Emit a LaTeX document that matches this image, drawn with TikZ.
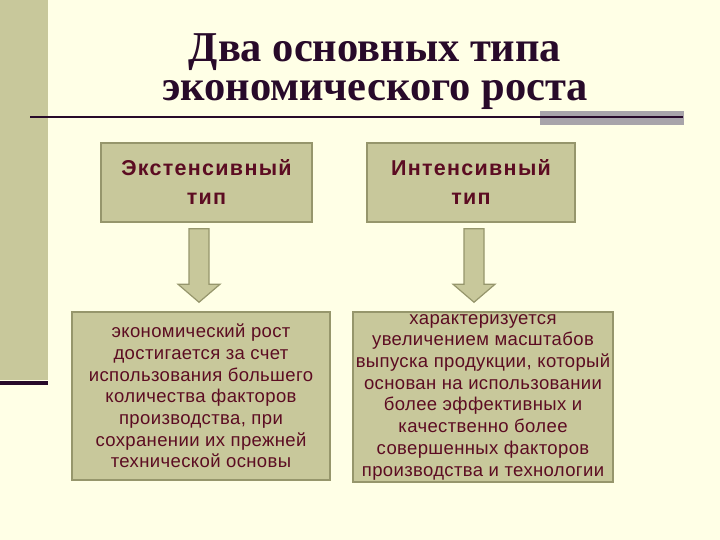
\documentclass[tikz,border=0pt]{standalone}
\usepackage{fontspec}
\setmainfont{Liberation Sans}
\newfontfamily\titlefont{Liberation Serif}
\usetikzlibrary{calc,positioning}
\definecolor{cream}{RGB}{255,255,230}
\definecolor{olive}{RGB}{200,200,155}
\definecolor{oliveedge}{RGB}{150,150,108}
\definecolor{plum}{RGB}{40,10,42}
\definecolor{wine}{RGB}{92,12,34}
\definecolor{bargray}{RGB}{168,164,170}

% block arrow from the bottom of #1 to the top of #2, shifted by #3
\newcommand\blockarrow[3]{%
  \draw[barrow] let \p1=(#1.south), \p2=(#2.north) in
    (\x1+#3-10,\y1-6) -- (\x1+#3+10,\y1-6) -- (\x1+#3+10,\y2+27)
    -- (\x1+#3+21,\y2+27) -- (\x1+#3,\y2+9) -- (\x1+#3-21,\y2+27)
    -- (\x1+#3-10,\y2+27) -- cycle;}

\begin{document}
\begin{tikzpicture}[x=1pt, y=1pt,
      head/.style={rectangle, draw=oliveedge, line width=1.5pt, fill=olive,
                   text=wine, align=center, inner sep=0pt,
                   font=\fontsize{21.5}{29}\selectfont\bfseries\addfontfeatures{LetterSpace=6}},
      body/.style={rectangle, draw=oliveedge, line width=1.5pt, fill=olive,
                   text=wine, align=center, inner sep=0pt,
                   font=\fontsize{18.5}{21.7}\selectfont\addfontfeatures{LetterSpace=2}},
      barrow/.style={draw=oliveedge, line width=1.2pt, fill=olive, line join=miter}]
    \useasboundingbox (0,0) rectangle (720,540);
    \fill[cream] (0,0) rectangle (720,540);
    \fill[olive] (0,160) rectangle (48,540);
    \draw[plum, line width=4pt] (0,157) -- (48,157);
    \fill[bargray] (540,415) rectangle (684,429);
    \draw[plum, line width=2.5pt] (30,423) -- (683,423);

    \node[text=plum, align=center, font=\titlefont\fontsize{42.5}{39}\selectfont\bfseries]
      (title) at (375,468) {Два основных типа\\экономического роста};

    \node[head, minimum width=211, minimum height=79] (ext) at (206.5,357.5)
      {Экстенсивный\\тип};
    \node[head, minimum width=208, minimum height=79] (int) at (471,357.5)
      {Интенсивный\\тип};

    \node[body, minimum width=258, minimum height=168] (extd) at (201,144)
      {экономический рост\\достигается за счет\\использования большего\\количества факторов\\производства, при\\сохранении их прежней\\технической основы};
    \node[body, minimum width=260, minimum height=170] (intd) at (483,143)
      {характеризуется\\увеличением масштабов\\выпуска продукции, который\\основан на использовании\\более эффективных и\\качественно более\\совершенных факторов\\производства и технологии};

    \blockarrow{ext}{extd}{-7.5}
    \blockarrow{int}{intd}{3}
  \end{tikzpicture}
\end{document}
